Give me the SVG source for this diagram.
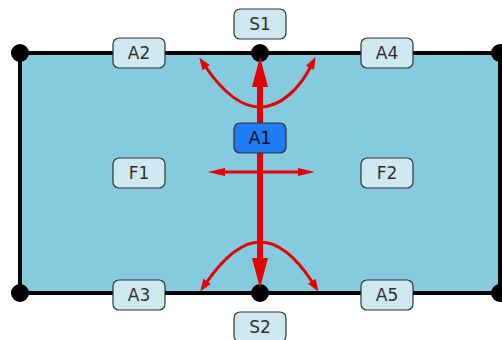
<svg xmlns="http://www.w3.org/2000/svg" width="502" height="340" viewBox="0 0 502 340">
<style>
.lbl rect{fill:#cfe9f2;stroke:#333;stroke-width:1.2}
.lbl text{font-family:"DejaVu Sans",sans-serif;font-size:17px;fill:#3a2d2d;text-anchor:middle}
.dot{fill:#000}
.red{fill:none;stroke:#e60000}
</style>
<defs>
<marker id="big" markerUnits="userSpaceOnUse" markerWidth="34" markerHeight="18" refX="2" refY="8" orient="auto-start-reverse" overflow="visible">
<path d="M0,0 L30,8 L0,16 z" fill="#e60000"/>
</marker>
<marker id="sm" markerUnits="userSpaceOnUse" markerWidth="14" markerHeight="10" refX="2" refY="4.5" orient="auto-start-reverse" overflow="visible">
<path d="M0,0 L12,4.5 L0,9 z" fill="#e60000"/>
</marker>
<marker id="hz" markerUnits="userSpaceOnUse" markerWidth="18" markerHeight="10" refX="2" refY="4" orient="auto-start-reverse" overflow="visible">
<path d="M0,0 L17,4 L0,8 z" fill="#e60000"/>
</marker>
</defs>
<g id="domain">
<rect x="20" y="53" width="480" height="240" fill="#85cadf" stroke="#000" stroke-width="4"/>
</g>
<g id="vertices">
<circle class="dot" cx="20" cy="53" r="9"/>
<circle class="dot" cx="260" cy="53" r="9"/>
<circle class="dot" cx="500" cy="53" r="9"/>
<circle class="dot" cx="20" cy="293" r="9"/>
<circle class="dot" cx="260" cy="293" r="9"/>
<circle class="dot" cx="500" cy="293" r="9"/>
</g>
<g id="connectors">
<path class="red" stroke-width="6" d="M260 85 L260 260" marker-start="url(#big)" marker-end="url(#big)"/>
<path class="red" stroke-width="3" d="M223 172 L300 172" marker-start="url(#hz)" marker-end="url(#hz)"/>
<path class="red" stroke-width="3" d="M260 107 C239 107 220 88 205 66" marker-end="url(#sm)"/>
<path class="red" stroke-width="3" d="M260 107 C281 107 300 88 311 66" marker-end="url(#sm)"/>
<path class="red" stroke-width="3" d="M260 242 C239 242 220 263 206 283" marker-end="url(#sm)"/>
<path class="red" stroke-width="3" d="M260 242 C281 242 300 263 313 283" marker-end="url(#sm)"/>
</g>
<g id="S1" class="lbl"><rect x="234" y="9" width="52" height="30" rx="6"/><text x="260" y="30">S1</text></g>
<g id="S2" class="lbl"><rect x="234" y="312" width="52" height="30" rx="6"/><text x="260" y="333">S2</text></g>
<g id="A2" class="lbl"><rect x="113" y="38" width="52" height="30" rx="6"/><text x="139" y="59">A2</text></g>
<g id="A4" class="lbl"><rect x="361" y="38" width="52" height="30" rx="6"/><text x="387" y="59">A4</text></g>
<g id="A3" class="lbl"><rect x="113" y="280" width="52" height="30" rx="6"/><text x="139" y="301">A3</text></g>
<g id="A5" class="lbl"><rect x="361" y="280" width="52" height="30" rx="6"/><text x="387" y="301">A5</text></g>
<g id="F1" class="lbl"><rect x="113" y="158" width="52" height="30" rx="6"/><text x="139" y="179">F1</text></g>
<g id="F2" class="lbl"><rect x="361" y="158" width="52" height="30" rx="6"/><text x="387" y="179">F2</text></g>
<g id="A1" class="lbl"><rect x="234" y="123" width="52" height="30" rx="6" style="fill:#1f7cf5"/><text x="260" y="144" style="fill:#111">A1</text></g>
</svg>
